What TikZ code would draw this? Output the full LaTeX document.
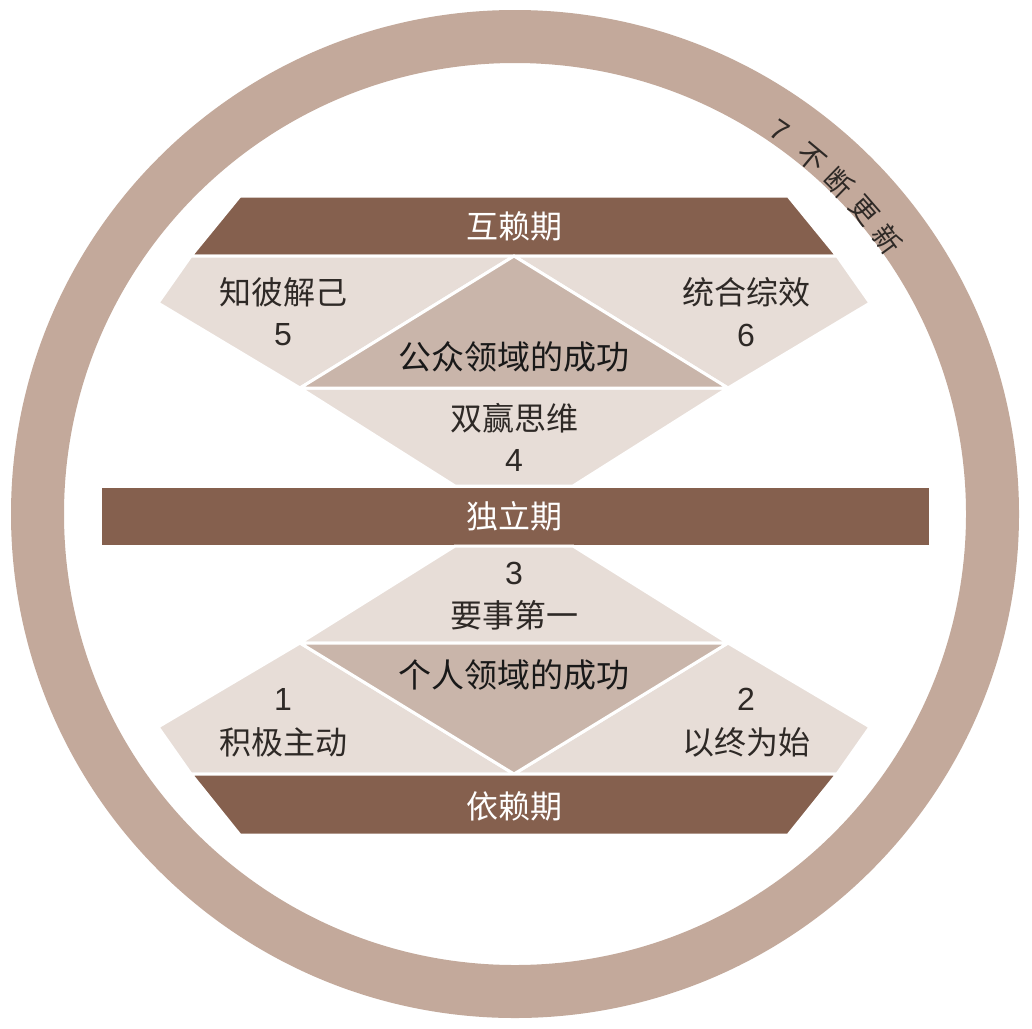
\documentclass[tikz,border=0pt]{standalone}
\usepackage{fontspec}
\setmainfont{Liberation Sans}
\newfontfamily\cjk{Noto Sans CJK SC}
\definecolor{ringc}{HTML}{C3A99B}
\definecolor{barc}{HTML}{85604E}
\definecolor{lightc}{HTML}{E7DDD7}
\definecolor{tric}{HTML}{C9B5AA}
\definecolor{txtc}{HTML}{2E2926}
\tikzset{
  barshape/.style={fill=barc, draw=white, line width=3pt, line join=round},
  lightshape/.style={fill=lightc, draw=white, line width=3pt, line join=round},
  trishape/.style={fill=tric, draw=white, line width=3pt, line join=round},
  bartxt/.style={text=white, font=\cjk\fontsize{32}{34}\selectfont, inner sep=0pt},
  lighttxt/.style={text=txtc, font=\cjk\fontsize{32}{34}\selectfont, inner sep=0pt},
  numtxt/.style={text=txtc, font=\fontsize{32}{34}\selectfont, inner sep=0pt},
  tritxt/.style={text=black!90, font=\cjk\fontsize{33}{35}\selectfont, inner sep=0pt},
  ringtxt/.style={text=txtc, font=\cjk\fontsize{28}{30}\selectfont, inner sep=0pt},
  ringnum/.style={text=txtc, font=\fontsize{29}{31}\selectfont, inner sep=0pt}
}
\begin{document}
\begin{tikzpicture}[x=1pt,y=-1pt]
\useasboundingbox (0,0) rectangle (1032,1028);
\fill[white] (0,0) rectangle (1032,1028);
\coordinate (c) at (515,514);
% ring
\draw[ringc, line width=53pt] (c) circle (477.5);
% top bar
\path[barshape] (240,196) -- (788,196) -- (837,256) -- (191,256) -- cycle;
% top pieces
\path[lightshape] (191,256) -- (514,256) -- (300,388) -- (158,303) -- cycle;
\path[lightshape] (514,256) -- (837,256) -- (870,303) -- (728,388) -- cycle;
\path[lightshape] (300,388) -- (728,388) -- (573,486) -- (455,486) -- cycle;
\path[trishape] (514,256) -- (728,388) -- (300,388) -- cycle;
% middle bar
\path[barshape] (100,486) -- (930,486) -- (930,546) -- (100,546) -- cycle;
% lower pieces
\path[lightshape] (455,546) -- (573,546) -- (728,643) -- (300,643) -- cycle;
\path[lightshape] (300,643) -- (514,774) -- (191,774) -- (158,727) -- cycle;
\path[lightshape] (728,643) -- (870,727) -- (837,774) -- (514,774) -- cycle;
\path[trishape] (300,643) -- (728,643) -- (514,774) -- cycle;
% bottom bar
\path[barshape] (191,774) -- (837,774) -- (788,835) -- (240,835) -- cycle;
% texts
\node[bartxt] (hl) at (514,226) {互赖期};
\node[lighttxt] (zb) at (283,292) {知彼解己};
\node[numtxt] (n5) at (283,335) {5};
\node[lighttxt] (th) at (746,292) {统合综效};
\node[numtxt] (n6) at (746,335) {6};
\node[tritxt] (gz) at (514,357) {公众领域的成功};
\node[lighttxt] (sy) at (514,418) {双赢思维};
\node[numtxt] (n4) at (514,460) {4};
\node[bartxt] (dl) at (514,516) {独立期};
\node[numtxt] (n3) at (514,573) {3};
\node[lighttxt] (ys) at (514,615) {要事第一};
\node[tritxt] (gr) at (514,675) {个人领域的成功};
\node[numtxt] (n1) at (283,699) {1};
\node[lighttxt] (jj) at (283,742) {积极主动};
\node[numtxt] (n2) at (746,699) {2};
\node[lighttxt] (yz) at (746,742) {以终为始};
\node[bartxt] (yl) at (514,806) {依赖期};
% ring text
\node[ringnum, rotate=-34] (r7) at ({515+466*cos(55.4)},{514-466*sin(55.4)}) {7};
\foreach \ch/\a [count=\i] in {不/50.2, 断/45.6, 更/41.0, 新/36.4} {
  \node[ringtxt, rotate=\a-90] (rc\i) at ({515+463*cos(\a)},{514-463*sin(\a)}) {\ch};
}
\end{tikzpicture}
\end{document}
